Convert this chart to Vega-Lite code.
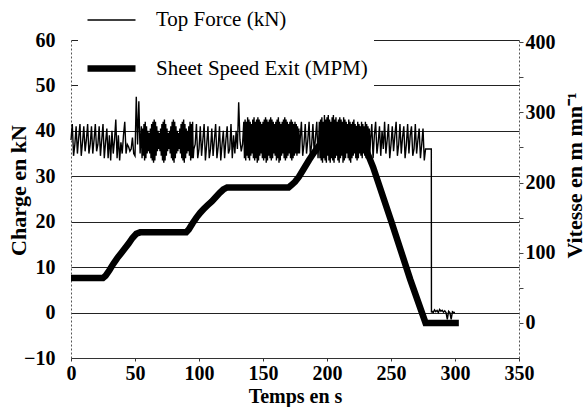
{
  "$schema": "https://vega.github.io/schema/vega-lite/v6.json",
  "width": 448,
  "height": 318,
  "autosize": "none",
  "padding": {"left": 71, "top": 40, "right": 66, "bottom": 49},
  "background": "white",
  "config": {
    "view": {"stroke": null},
    "font": "Liberation Serif, Times New Roman, serif",
    "axis": {"labelFont": "Liberation Serif, Times New Roman, serif", "titleFont": "Liberation Serif, Times New Roman, serif", "labelColor": "black", "titleColor": "black", "labelFontWeight": "bold", "titleFontWeight": "bold", "labelFontSize": 20, "titleFontSize": 22},
    "legend": {"labelFont": "Liberation Serif, Times New Roman, serif"}
  },
  "datasets": {
    "force": [
      {"t":0,"f":38},{"t":1,"f":41.5},{"t":2,"f":34.5},{"t":3,"f":37},{"t":4,"f":41},{"t":5,"f":35},{"t":6,"f":38.5},{"t":7,"f":41.5},{"t":8,"f":34.5},{"t":9,"f":37.5},
      {"t":10,"f":41},{"t":11,"f":35.5},{"t":12,"f":38},{"t":13,"f":41.5},{"t":14,"f":35},{"t":15,"f":37},{"t":16,"f":41},{"t":17,"f":35},{"t":18,"f":38},{"t":19,"f":41.5},
      {"t":20,"f":35.5},{"t":21,"f":37},{"t":22,"f":41},{"t":23,"f":34.5},{"t":24,"f":38},{"t":25,"f":41.5},{"t":26,"f":34},{"t":27,"f":37.5},{"t":28,"f":40.5},{"t":29,"f":34},
      {"t":30,"f":39},{"t":31,"f":33.5},{"t":32,"f":40},{"t":33,"f":35},{"t":34,"f":38},{"t":35,"f":42.5},{"t":36,"f":34},{"t":37,"f":39},{"t":38,"f":33.5},{"t":39,"f":37.5},
      {"t":40,"f":35},{"t":41,"f":39},{"t":42,"f":42},{"t":43,"f":35},{"t":44,"f":37},{"t":45,"f":36.5},{"t":46,"f":35.5},{"t":47,"f":36},{"t":48,"f":38.5},{"t":49,"f":35},
      {"t":50,"f":34.5},{"t":51,"f":47.5},{"t":52,"f":37},{"t":53,"f":46.5},{"t":54,"f":35},
      {"t":55,"f":41},{"t":55.5,"f":34},{"t":56,"f":40.5},{"t":56.5,"f":34.5},{"t":57,"f":41.5},{"t":57.5,"f":33.5},{"t":58,"f":42},{"t":58.5,"f":34},{"t":59,"f":41},{"t":59.5,"f":35},
      {"t":60,"f":40},{"t":60.5,"f":35.5},{"t":61,"f":39.5},{"t":61.5,"f":35},{"t":62,"f":40.5},{"t":62.5,"f":34},{"t":63,"f":41.5},{"t":63.5,"f":33.5},{"t":64,"f":42},{"t":64.5,"f":33},
      {"t":65,"f":42.5},{"t":65.5,"f":33.5},{"t":66,"f":42},{"t":66.5,"f":34.5},{"t":67,"f":41},{"t":67.5,"f":35.5},{"t":68,"f":40},{"t":68.5,"f":36},{"t":69,"f":39.5},{"t":69.5,"f":35.5},
      {"t":70,"f":40.5},{"t":70.5,"f":34.5},{"t":71,"f":41.5},{"t":71.5,"f":33.5},{"t":72,"f":42},{"t":72.5,"f":33},{"t":73,"f":42.5},{"t":73.5,"f":33.5},{"t":74,"f":41.5},{"t":74.5,"f":34.5},
      {"t":75,"f":40.5},{"t":75.5,"f":35.5},{"t":76,"f":39.5},{"t":76.5,"f":36},{"t":77,"f":40},{"t":77.5,"f":35},{"t":78,"f":41},{"t":78.5,"f":34},{"t":79,"f":42},{"t":79.5,"f":33.5},
      {"t":80,"f":42.5},{"t":80.5,"f":33},{"t":81,"f":42},{"t":81.5,"f":34},{"t":82,"f":41},{"t":82.5,"f":35},{"t":83,"f":40},{"t":83.5,"f":35.5},{"t":84,"f":39.5},{"t":84.5,"f":36},
      {"t":85,"f":40.5},{"t":85.5,"f":35},{"t":86,"f":41.5},{"t":86.5,"f":34},{"t":87,"f":42},{"t":87.5,"f":33.5},{"t":88,"f":42.5},{"t":88.5,"f":33},{"t":89,"f":41.5},{"t":89.5,"f":34},
      {"t":90,"f":40.5},{"t":90.5,"f":35},{"t":91,"f":40},{"t":91.5,"f":35.5},{"t":92,"f":41},{"t":92.5,"f":34.5},{"t":93,"f":42},{"t":93.5,"f":33.5},{"t":94,"f":41.5},{"t":94.5,"f":34},
      {"t":95,"f":42},{"t":95.5,"f":34},
      {"t":96,"f":36},{"t":97,"f":37},{"t":98,"f":41.5},{"t":99,"f":34},
      {"t":100,"f":36},{"t":101,"f":41},{"t":102,"f":34.5},{"t":103,"f":38},{"t":104,"f":41.5},{"t":105,"f":33.5},{"t":106,"f":37},{"t":107,"f":41},{"t":108,"f":34},{"t":109,"f":36},
      {"t":110,"f":40.5},{"t":111,"f":34.5},{"t":112,"f":38},{"t":113,"f":41.5},{"t":114,"f":34},{"t":115,"f":36.5},{"t":116,"f":41},{"t":117,"f":33.5},{"t":118,"f":37},{"t":119,"f":40},
      {"t":120,"f":34},{"t":121,"f":38},{"t":122,"f":41},{"t":123,"f":35},{"t":124,"f":36},{"t":125,"f":41.5},{"t":126,"f":34},{"t":127,"f":39},{"t":128,"f":35},{"t":129,"f":40},
      {"t":130,"f":36},{"t":131,"f":46.3},{"t":132,"f":38},{"t":133,"f":35.5},{"t":134,"f":37},
      {"t":135,"f":42},{"t":135.5,"f":34},{"t":136,"f":42.5},{"t":136.5,"f":33.5},{"t":137,"f":42},{"t":137.5,"f":34.5},{"t":138,"f":43},{"t":138.5,"f":34},{"t":139,"f":42.5},{"t":139.5,"f":33.5},
      {"t":140,"f":42},{"t":140.5,"f":34.5},{"t":141,"f":41.5},{"t":141.5,"f":35},{"t":142,"f":42.5},{"t":142.5,"f":34},{"t":143,"f":43},{"t":143.5,"f":33.5},{"t":144,"f":42},{"t":144.5,"f":34},
      {"t":145,"f":42.5},{"t":145.5,"f":33},{"t":146,"f":43},{"t":146.5,"f":33.5},{"t":147,"f":42.5},{"t":147.5,"f":34.5},{"t":148,"f":42},{"t":148.5,"f":35},{"t":149,"f":41.5},{"t":149.5,"f":34},
      {"t":150,"f":42},{"t":150.5,"f":33.5},{"t":151,"f":42.5},{"t":151.5,"f":34},{"t":152,"f":43},{"t":152.5,"f":33},{"t":153,"f":42.5},{"t":153.5,"f":33.5},{"t":154,"f":42},{"t":154.5,"f":34.5},
      {"t":155,"f":42.5},{"t":155.5,"f":34},{"t":156,"f":43},{"t":156.5,"f":33.5},{"t":157,"f":42.5},{"t":157.5,"f":34},{"t":158,"f":42},{"t":158.5,"f":35},{"t":159,"f":41.5},{"t":159.5,"f":34.5},
      {"t":160,"f":42},{"t":160.5,"f":33.5},{"t":161,"f":42.5},{"t":161.5,"f":34},{"t":162,"f":43},{"t":162.5,"f":33},{"t":163,"f":42},{"t":163.5,"f":33.5},{"t":164,"f":41.5},{"t":164.5,"f":34.5},
      {"t":165,"f":42},{"t":165.5,"f":35},{"t":166,"f":42.5},{"t":166.5,"f":34},{"t":167,"f":43},{"t":167.5,"f":33.5},{"t":168,"f":42.5},{"t":168.5,"f":34},{"t":169,"f":42},{"t":169.5,"f":34.5},
      {"t":170,"f":41.5},{"t":170.5,"f":35},{"t":171,"f":42},{"t":171.5,"f":34},{"t":172,"f":42.5},{"t":172.5,"f":33.5},{"t":173,"f":42},{"t":173.5,"f":34},{"t":174,"f":41.5},{"t":174.5,"f":34.5},
      {"t":175,"f":42},{"t":175.5,"f":35},{"t":176,"f":41.5},{"t":176.5,"f":34.5},{"t":177,"f":41},{"t":177.5,"f":35},{"t":178,"f":40.5},{"t":178.5,"f":35},
      {"t":179,"f":38},
      {"t":180,"f":42},{"t":181,"f":34.5},{"t":182,"f":37},{"t":183,"f":41.5},{"t":184,"f":35},{"t":185,"f":38},{"t":186,"f":42},{"t":187,"f":34.5},{"t":188,"f":37},{"t":189,"f":41.5},
      {"t":190,"f":35},{"t":191,"f":38.5},{"t":192,"f":42},{"t":193,"f":34},
      {"t":194,"f":42},{"t":194.5,"f":34},{"t":195,"f":42.5},{"t":195.5,"f":33.5},{"t":196,"f":43},{"t":196.5,"f":33},{"t":197,"f":42},{"t":197.5,"f":34},{"t":198,"f":43.5},{"t":198.5,"f":33.5},
      {"t":199,"f":42.5},{"t":199.5,"f":33},{"t":200,"f":43},{"t":200.5,"f":34.5},{"t":201,"f":43.5},{"t":201.5,"f":33.5},{"t":202,"f":42.5},{"t":202.5,"f":33},{"t":203,"f":42},{"t":203.5,"f":34},
      {"t":204,"f":43},{"t":204.5,"f":33.5},{"t":205,"f":43.5},{"t":205.5,"f":33},{"t":206,"f":42.5},{"t":206.5,"f":34},{"t":207,"f":43},{"t":207.5,"f":34.5},{"t":208,"f":42},{"t":208.5,"f":33.5},
      {"t":209,"f":42.5},{"t":209.5,"f":33},{"t":210,"f":43},{"t":210.5,"f":34},{"t":211,"f":42.5},{"t":211.5,"f":34.5},{"t":212,"f":42},{"t":212.5,"f":33},{"t":213,"f":43},{"t":213.5,"f":33.5},
      {"t":214,"f":42.5},{"t":214.5,"f":34},{"t":215,"f":42},{"t":215.5,"f":35},{"t":216,"f":41.5},{"t":216.5,"f":34},{"t":217,"f":42.5},{"t":217.5,"f":33.5},{"t":218,"f":42},{"t":218.5,"f":33},
      {"t":219,"f":41.5},{"t":219.5,"f":34},{"t":220,"f":42},{"t":220.5,"f":34.5},{"t":221,"f":42.5},{"t":221.5,"f":35},{"t":222,"f":41.5},{"t":222.5,"f":34},{"t":223,"f":41},{"t":223.5,"f":33.5},
      {"t":224,"f":42},{"t":224.5,"f":34},{"t":225,"f":41.5},{"t":225.5,"f":35},{"t":226,"f":41},{"t":226.5,"f":34.5},{"t":227,"f":42},{"t":227.5,"f":34},{"t":228,"f":41.5},{"t":228.5,"f":35},
      {"t":229,"f":41},{"t":229.5,"f":34.5},{"t":230,"f":42},{"t":230.5,"f":34},{"t":231,"f":41.5},{"t":231.5,"f":35},{"t":232,"f":41},{"t":232.5,"f":34.5},{"t":233,"f":40.5},{"t":233.5,"f":35},
      {"t":234,"f":38},{"t":235,"f":41.5},{"t":236,"f":34},{"t":237,"f":39},{"t":238,"f":42},{"t":239,"f":35},
      {"t":240,"f":37.5},{"t":241,"f":41},{"t":242,"f":34.5},{"t":243,"f":40},{"t":244,"f":36},{"t":245,"f":42},{"t":246,"f":35},{"t":247,"f":38},{"t":248,"f":41.5},{"t":249,"f":34},
      {"t":250,"f":37},{"t":251,"f":41},{"t":252,"f":35.5},{"t":253,"f":39},{"t":254,"f":42},{"t":255,"f":34.5},{"t":256,"f":37},{"t":257,"f":41.5},{"t":258,"f":35},{"t":259,"f":38.5},
      {"t":260,"f":41},{"t":261,"f":34},{"t":262,"f":37},{"t":263,"f":41.5},{"t":264,"f":35},{"t":265,"f":39},{"t":266,"f":41},{"t":267,"f":34.5},{"t":268,"f":36},{"t":269,"f":41.5},
      {"t":270,"f":35},{"t":271,"f":38},{"t":272,"f":40.5},{"t":273,"f":34},{"t":274,"f":37},{"t":275,"f":40.5},{"t":276,"f":33.5},{"t":277,"f":36},{"t":278,"f":36},{"t":279,"f":36},
      {"t":280,"f":36},{"t":281.5,"f":36},{"t":281.6,"f":0},{"t":282,"f":0.3},{"t":283,"f":0},{"t":284,"f":0.6},{"t":285,"f":0.2},{"t":286,"f":0.5},{"t":287,"f":0},{"t":288,"f":0.7},
      {"t":289,"f":0.3},{"t":290,"f":0.5},{"t":291,"f":0.1},{"t":292,"f":0.4},{"t":293,"f":0},{"t":294,"f":-1.5},{"t":295,"f":0.3},{"t":296,"f":0},{"t":297,"f":-1.5},{"t":298,"f":0.2},
      {"t":299,"f":0},{"t":300,"f":0}
    ],
    "speed": [
      {"t":0,"s":64},{"t":25,"s":64},{"t":27,"s":67},{"t":30,"s":75},{"t":33,"s":84},{"t":36,"s":92},{"t":39,"s":99},{"t":42,"s":106},{"t":45,"s":113},{"t":48,"s":121},
      {"t":51,"s":127},{"t":54,"s":129},{"t":90,"s":129},{"t":92,"s":133},{"t":95,"s":142},{"t":98,"s":150},{"t":101,"s":157},{"t":104,"s":163},{"t":107,"s":168},{"t":110,"s":173},
      {"t":113,"s":179},{"t":116,"s":185},{"t":119,"s":190},{"t":122,"s":193},{"t":170,"s":193},{"t":172,"s":196},{"t":175,"s":201},{"t":178,"s":208},{"t":182,"s":220},{"t":186,"s":232},
      {"t":190,"s":243},{"t":194,"s":253},{"t":198,"s":262},{"t":202,"s":269},{"t":206,"s":273},{"t":210,"s":275},{"t":224,"s":276},{"t":236,"s":222},{"t":250,"s":146},{"t":265,"s":62},
      {"t":277,"s":0},{"t":303,"s":0}
    ]
  },
  "layer": [
    {
      "data": {"name": "force"},
      "mark": {"type": "line", "color": "black", "interpolate": "linear"},
      "encoding": {
        "x": {"field": "t", "type": "quantitative", "scale": {"domain": [0, 350], "nice": false},
          "axis": {"values": [0, 50, 100, 150, 200, 250, 300, 350], "title": "Temps en s", "labelFont": "Liberation Serif, Times New Roman, serif", "titleFontSize": 20, "grid": false, "domain": true, "domainColor": "#333", "tickColor": "#333", "tickSize": 3, "labelPadding": 2, "labelFlush": false, "titleY": 38, "titleBaseline": "middle"}},
        "y": {"field": "f", "type": "quantitative", "scale": {"domain": [-10, 60], "nice": false},
          "axis": {"values": [-10, 0, 10, 20, 30, 40, 50, 60], "title": "Charge en kN", "labelFont": "Liberation Serif, Times New Roman, serif", "grid": true, "gridColor": "#222", "gridOpacity": 1, "gridWidth": 1, "ticks": false, "domain": true, "domainColor": "#555", "domainDash": [2, 2], "labelPadding": 16, "labelFlush": false, "titleAngle": 270, "titleX": -53, "titleY": 150, "titleAlign": "center", "titleBaseline": "middle"}},
        "strokeWidth": {"datum": "Top Force (kN)", "type": "ordinal",
          "scale": {"domain": ["Top Force (kN)", "Sheet Speed Exit (MPM)"], "range": [1.4, 6.5]},
          "legend": {"orient": "none", "legendX": 7, "legendY": -51, "title": null, "symbolType": "stroke", "symbolSize": 2304, "symbolStrokeColor": "black", "labelFont": "Liberation Serif, Times New Roman, serif", "labelFontSize": 21, "labelColor": "black", "labelOffset": 17, "labelLimit": 400, "rowPadding": 11, "padding": 6, "fillColor": "white", "strokeColor": null, "labelExpr": "datum.label + '\u00a0\u00a0\u00a0\u00a0\u00a0\u00a0\u00a0\u00a0\u00a0\u00a0'"}}
      }
    },
    {
      "data": {"name": "speed"},
      "mark": {"type": "line", "color": "black"},
      "encoding": {
        "x": {"field": "t", "type": "quantitative"},
        "y": {"field": "s", "type": "quantitative", "scale": {"domain": [-50, 403], "nice": false},
          "axis": {"orient": "right", "values": [0, 50, 100, 150, 200, 250, 300, 350, 400], "labelExpr": "datum.value % 100 === 0 ? datum.label : ''", "title": "Vitesse en m mn⁻¹", "labelFont": "Liberation Serif, Times New Roman, serif", "grid": false, "ticks": true, "tickSize": 4, "tickColor": "#444", "domain": true, "domainColor": "#555", "domainDash": [2, 2], "labelPadding": 2, "labelFlush": false, "titleAngle": 270, "titleX": 55, "titleY": 135, "titleAlign": "center", "titleBaseline": "middle"}},
        "strokeWidth": {"datum": "Sheet Speed Exit (MPM)", "type": "ordinal"}
      }
    }
  ],
  "resolve": {"scale": {"y": "independent"}, "axis": {"y": "independent"}}
}
